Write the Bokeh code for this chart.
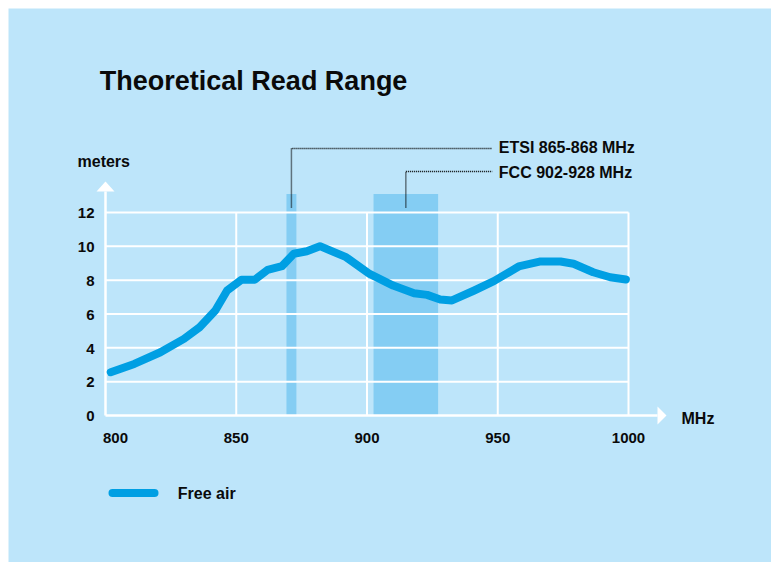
from bokeh.plotting import figure
from bokeh.models import Range1d
from bokeh.embed import file_html
from bokeh.resources import INLINE
from bokeh.core.properties import value

# ---------------- data ----------------
title_text = "Theoretical Read Range"
y_axis_label = "meters"
x_axis_label = "MHz"
series_name = "Free air"

freq_mhz = [802, 811, 821, 830, 836, 842, 846.5, 852, 857, 862, 867.5, 872, 877, 882,
            892, 901, 910, 918, 923, 928, 932.5, 941, 948.5, 958, 966, 974, 979,
            986.5, 993, 999]
read_range_m = [2.56, 3.05, 3.74, 4.53, 5.22, 6.21, 7.39, 8.02, 8.02, 8.61, 8.83, 9.56,
                9.71, 10.01, 9.36, 8.37, 7.68, 7.23, 7.13, 6.86, 6.80, 7.39, 7.94, 8.81,
                9.10, 9.10, 8.97, 8.47, 8.17, 8.04]

x_ticks = [800, 850, 900, 950, 1000]
x_tick_labels = ["800", "850", "900", "950", "1000"]
y_ticks = [0, 2, 4, 6, 8, 10, 12]
y_tick_labels = ["0", "2", "4", "6", "8", "10", "12"]

band_names = ["ETSI 865-868 MHz", "FCC 902-928 MHz"]
band_start = [869.2, 902.5]
band_end = [873.0, 927.2]
band_top = 13.1

# ---------------- layout / style ----------------
PAGE_W, PAGE_H = 771, 562
OFFSET = 8                       # white strip at top / left
PPX = 2.615      # pixels per MHz
PPY = 16.917     # pixels per meter
X0_PAGE, Y0_PAGE = 105, 415   # page position of (800, 0)

BG = "#bde5fa"
BAND = "#84cdf3"
LINE = "#009fe3"
WHITE = "#ffffff"
INK = "#0a0a0a"
FONT = value("Liberation Sans")

xmin, xmax = x_ticks[0], x_ticks[-1]
ymin, ymax = y_ticks[0], y_ticks[-1]


def fx(px):
    return xmin + (px - X0_PAGE) / PPX


def fy(py):
    return ymin + (Y0_PAGE - py) / PPY


x_range = Range1d(fx(OFFSET), fx(PAGE_W))
y_range = Range1d(fy(PAGE_H), fy(OFFSET))

p = figure(width=PAGE_W, height=PAGE_H, x_range=x_range, y_range=y_range,
           output_backend="svg", toolbar_location=None,
           x_axis_type=None, y_axis_type=None,
           min_border_left=OFFSET, min_border_top=OFFSET,
           min_border_right=0, min_border_bottom=0,
           outline_line_color=None, background_fill_color=BG,
           border_fill_color=WHITE)

# bands
p.quad(left=band_start, right=band_end, bottom=ymin, top=band_top,
       fill_color=BAND, line_color=None)

# grid
p.segment(x0=[xmin] * (len(y_ticks) - 1), x1=[xmax] * (len(y_ticks) - 1),
          y0=y_ticks[1:], y1=y_ticks[1:], line_color=WHITE, line_width=2)
p.segment(x0=x_ticks[1:], x1=x_ticks[1:], y0=[ymin] * (len(x_ticks) - 1),
          y1=[ymax] * (len(x_ticks) - 1), line_color=WHITE, line_width=2)

# axes with arrows
y_arrow_base = fy(191)
y_arrow_tip = fy(181)
x_arrow_base = fx(657)
x_arrow_tip = fx(666)
p.segment(x0=[xmin, xmin], x1=[xmin, x_arrow_base], y0=[ymin, ymin],
          y1=[y_arrow_base, ymin], line_color=WHITE, line_width=2.5)
p.patches(xs=[[xmin - 9 / PPX, xmin, xmin + 9 / PPX],
              [x_arrow_base, x_arrow_tip, x_arrow_base]],
          ys=[[y_arrow_base, y_arrow_tip, y_arrow_base],
              [ymin + 9 / PPY, ymin, ymin - 9 / PPY]],
          fill_color=WHITE, line_color=None)

# leader lines for bands
band_center = [(a + b) / 2 for a, b in zip(band_start, band_end)]
leader_y = [fy(148), fy(171)]
leader_bottom = fy(207)
leader_end = fx(491.7)
for c, ly in zip(band_center, leader_y):
    p.line(x=[c, c, leader_end], y=[leader_bottom, ly, ly], line_color="#000000",
           line_width=1.5, line_dash="1 1")

TXT = dict(text_font=FONT, text_font_style="bold", text_color=INK,
           text_baseline="middle")

p.text(x=[fx(498.3)] * 2, y=[fy(147.3), fy(171.5)], text=band_names,
       text_font_size="16px", text_align="left", **TXT)

# curve
p.line(freq_mhz, read_range_m, line_color=LINE, line_width=8,
       line_join="round", line_cap="round")

# tick labels
p.text(x=[fx(94)] * len(y_ticks), y=[t - 0.7 / PPY for t in y_ticks],
       text=y_tick_labels, text_font_size="15px", text_align="right", **TXT)
x_label_pos = [t + (10 / PPX if t == xmin else 0) for t in x_ticks]
p.text(x=x_label_pos, y=[fy(437.5)] * len(x_ticks), text=x_tick_labels,
       text_font_size="15px", text_align="center", **TXT)

# axis labels
p.text(x=[fx(77)], y=[fy(161)], text=[y_axis_label],
       text_font_size="16px", text_align="left", **TXT)
p.text(x=[fx(681)], y=[fy(417.5)], text=[x_axis_label],
       text_font_size="16px", text_align="left", **TXT)

# title
p.text(x=[fx(99.3)], y=[fy(80)], text=[title_text],
       text_font_size="27px", text_align="left", **TXT)

# legend
p.line(x=[fx(112), fx(154)], y=[fy(492.5)] * 2, line_color=LINE, line_width=8,
       line_cap="round")
p.text(x=[fx(177.3)], y=[fy(492.5)], text=[series_name],
       text_font_size="16px", text_align="left", **TXT)

open("out.html", "w").write(file_html(p, INLINE))
